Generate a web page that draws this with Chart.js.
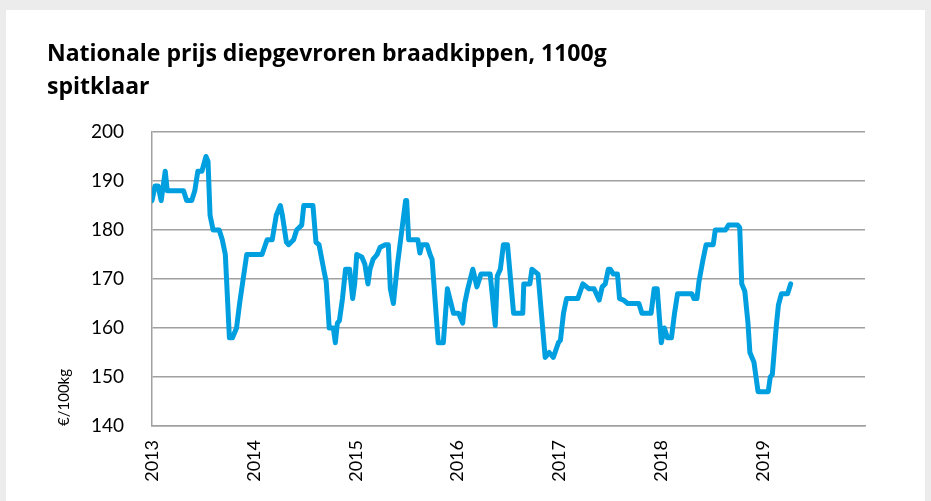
<!DOCTYPE html>
<html>
<head>
<meta charset="utf-8">
<script src="https://cdn.jsdelivr.net/npm/chart.js@4/dist/chart.umd.min.js"></script>
<style>
  html, body { margin: 0; padding: 0; }
  body { width: 931px; height: 501px; background: #ececec; position: relative; overflow: hidden; }
  #kaart { position: absolute; left: 6px; top: 10px; width: 919px; height: 500px; background: #fff; }
  #wrap { position: absolute; left: 0; top: 0; width: 931px; height: 501px; }
</style>
</head>
<body>
<div id="kaart"></div>
<div id="wrap"><canvas id="grafiek" width="931" height="501"></canvas></div>
<script>
const titel = ['Nationale prijs diepgevroren braadkippen, 1100g', 'spitklaar'];
const eenheid = '€/100kg';
const jaarLabels = ['2013', '2014', '2015', '2016', '2017', '2018', '2019'];

// tijd als decimaal jaartal, prijs in €/100kg
const jaren = [
  2013.00, 2013.03, 2013.06, 2013.09, 2013.13, 2013.15, 2013.31, 2013.34, 2013.39, 2013.42,
  2013.45, 2013.49, 2013.53, 2013.55, 2013.57, 2013.60, 2013.66, 2013.69, 2013.72, 2013.76,
  2013.79, 2013.83, 2013.86, 2013.93, 2014.08, 2014.13, 2014.18, 2014.22, 2014.26, 2014.28,
  2014.32, 2014.34, 2014.39, 2014.42, 2014.47, 2014.49, 2014.58, 2014.61, 2014.64, 2014.69,
  2014.71, 2014.74, 2014.78, 2014.80, 2014.82, 2014.84, 2014.87, 2014.90, 2014.94, 2014.97,
  2014.99, 2015.01, 2015.06, 2015.09, 2015.12, 2015.14, 2015.17, 2015.21, 2015.24, 2015.29,
  2015.32, 2015.34, 2015.37, 2015.41, 2015.49, 2015.50, 2015.52, 2015.61, 2015.63, 2015.65,
  2015.70, 2015.73, 2015.75, 2015.81, 2015.86, 2015.90, 2015.96, 2016.01, 2016.05, 2016.07,
  2016.10, 2016.15, 2016.19, 2016.23, 2016.32, 2016.37, 2016.39, 2016.42, 2016.45, 2016.49,
  2016.55, 2016.64, 2016.65, 2016.71, 2016.73, 2016.79, 2016.86, 2016.90, 2016.94, 2016.99,
  2017.01, 2017.04, 2017.07, 2017.18, 2017.23, 2017.29, 2017.34, 2017.39, 2017.42, 2017.45,
  2017.48, 2017.50, 2017.53, 2017.57, 2017.59, 2017.63, 2017.67, 2017.78, 2017.81, 2017.90,
  2017.93, 2017.96, 2018.00, 2018.03, 2018.06, 2018.10, 2018.13, 2018.16, 2018.30, 2018.32,
  2018.35, 2018.37, 2018.41, 2018.44, 2018.51, 2018.53, 2018.63, 2018.66, 2018.75, 2018.77,
  2018.79, 2018.82, 2018.85, 2018.87, 2018.91, 2018.95, 2019.05, 2019.07, 2019.09, 2019.13,
  2019.15, 2019.18, 2019.24, 2019.27
];
const prijzen = [
  186, 189, 189, 186, 192, 188, 188, 186, 186, 188,
  192, 192, 195, 194, 183, 180, 180, 178, 175, 158,
  158, 160, 165, 175, 175, 178, 178, 183, 185, 183,
  177.5, 177, 178, 180, 181, 185, 185, 177.5, 177, 171.5,
  169.5, 160, 160, 157, 161, 161.5, 166, 172, 172, 166,
  169, 175, 174.5, 173, 169, 172, 174, 175, 176.5, 177,
  177, 168, 165, 173, 186, 186, 178, 178, 175.3, 177,
  177, 175, 174, 157, 157, 168, 163, 163, 161, 165,
  168, 172, 168.4, 171, 171, 160.5, 170.6, 172, 177, 177,
  163, 163, 169, 169, 172, 171, 154, 155, 154, 157,
  157.5, 163, 166, 166, 169, 168, 168, 165.7, 168.4, 169,
  172, 172, 171, 171, 166, 165.7, 165, 165, 163, 163,
  168, 168, 157, 160, 158, 158, 163, 167, 167, 166,
  166, 169.5, 174, 177, 177, 180, 180, 181, 181, 180.5,
  169, 167.5, 161.3, 155, 153, 147, 147, 150, 150.5, 160.6,
  164.7, 167, 167, 169
];

const punten = jaren.map((j, i) => ({ x: j, y: prijzen[i] }));
const letter = "Lato, 'Noto Sans', sans-serif";

new Chart(document.getElementById('grafiek'), {
  type: 'line',
  data: {
    datasets: [{
      label: 'prijs',
      data: punten,
      borderColor: '#009fe0',
      borderWidth: 5,
      borderJoinStyle: 'round',
      borderCapStyle: 'round',
      pointRadius: 0,
      tension: 0,
      fill: false
    }]
  },
  options: {
    responsive: false,
    animation: false,
    layout: { padding: { left: 47, right: 66, top: 38, bottom: 0 } },
    plugins: {
      legend: { display: false },
      tooltip: { enabled: false },
      title: {
        display: true,
        text: titel,
        align: 'start',
        color: '#000',
        font: { family: "'Open Sans', sans-serif", size: 23, weight: 'bold', lineHeight: 1.435 },
        padding: { top: 0, bottom: 28 }
      }
    },
    scales: {
      x: {
        type: 'linear',
        min: 2013,
        max: 2020,
        afterFit(s) { s.height = 75; },
        grid: { display: false, drawTicks: false },
        border: { display: true, color: '#a0a0a0', width: 1.5 },
        ticks: {
          stepSize: 1,
          autoSkip: false,
          minRotation: 90,
          maxRotation: 90,
          padding: 14,
          color: '#000',
          font: { family: letter, size: 18 },
          callback: v => jaarLabels.includes(String(v)) ? String(v) : ''
        }
      },
      y: {
        min: 140,
        max: 200,
        afterFit(s) { s.width = 105; },
        grid: { color: '#a0a0a0', lineWidth: 1.5, drawTicks: false },
        border: { display: true, color: '#a0a0a0', width: 1.5 },
        ticks: {
          stepSize: 10,
          padding: 28,
          color: '#000',
          font: { family: letter, size: 19 }
        },
        title: {
          display: true,
          text: eenheid,
          align: 'start',
          color: '#000',
          font: { family: letter, size: 15 },
          padding: { top: 8, bottom: 0 }
        }
      }
    }
  }
});
</script>
</body>
</html>
